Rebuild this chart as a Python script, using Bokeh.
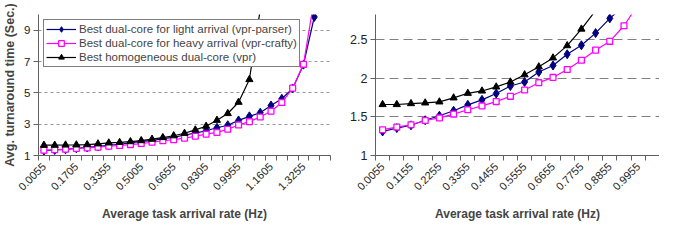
import math
import numpy as np
from bokeh.plotting import figure
from bokeh.layouts import row
from bokeh.models import FixedTicker, Legend, LegendItem, Range1d, ColumnDataSource
from bokeh.embed import file_html
from bokeh.resources import INLINE

# ---- data -------------------------------------------------------------
arrival_rate = ["0.0055", "0.0605", "0.1155", "0.1705", "0.2255", "0.2805", "0.3355",
                "0.3905", "0.4455", "0.5005", "0.5555", "0.6105", "0.6655", "0.7205",
                "0.7755", "0.8305", "0.8855", "0.9405", "0.9955", "1.0505", "1.1055",
                "1.1605", "1.2155", "1.2705", "1.3255", "1.3805", "1.4355"]

light_vpr_parser = [1.31, 1.354, 1.39, 1.455, 1.513, 1.577, 1.654, 1.718, 1.80, 1.897,
                    1.949, 2.077, 2.162, 2.307, 2.423, 2.58, 2.77, 2.93, 3.24, 3.50,
                    3.73, 4.19, 4.62, 5.28, 6.80, 9.84, float("nan")]
heavy_vpr_crafty = [1.333, 1.367, 1.397, 1.452, 1.485, 1.535, 1.59, 1.64, 1.696, 1.764,
                    1.846, 1.94, 2.008, 2.11, 2.23, 2.36, 2.474, 2.675, 2.95, 3.16,
                    3.46, 3.83, 4.38, 5.30, 6.82, 11.0, float("nan")]
homog_vpr = [1.658, 1.658, 1.67, 1.679, 1.692, 1.744, 1.803, 1.833, 1.885, 1.949,
             2.042, 2.145, 2.26, 2.418, 2.632, 2.87, 3.25, 3.68, 4.40, 5.85,
             10.3, float("nan"), float("nan"), float("nan"), float("nan"), float("nan"), float("nan")]

series_names = ["Best dual-core for light arrival (vpr-parser)",
                "Best dual-core for heavy arrival (vpr-crafty)",
                "Best homogeneous dual-core (vpr)"]

left_y_ticks = [1, 3, 5, 7, 9]
left_y_max = 10
left_label_step = 3

right_count = 20
right_y_ticks = [1, 1.5, 2, 2.5]
right_y_labels = ["1", "1.5", "2", "2.5"]
right_y_max = 2.82
right_label_step = 2

x_title = "Average task arrival rate (Hz)"
y_title = "Avg. turnaround time (Sec.)"

FONT = "Liberation Sans"
AXIS_COLOR = "#606060"


def make_source(n):
    return ColumnDataSource(dict(
        x=np.arange(n, dtype=float),
        light=np.array(light_vpr_parser[:n], dtype=float),
        heavy=np.array(heavy_vpr_crafty[:n], dtype=float),
        homog=np.array(homog_vpr[:n], dtype=float),
    ))


def style_axes(p, n, step, yticks, ylabels, gdash, gcolor, ysize):
    xa = p.xaxis[0]
    major = list(range(0, n, step))
    xa.ticker = FixedTicker(ticks=major, minor_ticks=[i - 0.5 for i in range(n + 1)])
    xa.major_label_overrides = {i: arrival_rate[i] for i in major}
    xa.major_label_orientation = math.pi / 4
    xa.major_tick_out = 0
    xa.major_tick_in = 0
    xa.minor_tick_out = 5
    xa.minor_tick_in = 0
    xa.minor_tick_line_color = AXIS_COLOR
    xa.axis_line_color = AXIS_COLOR
    xa.major_label_text_font = FONT
    xa.major_label_text_font_size = "11px"
    xa.major_label_text_color = "#222222"
    xa.major_label_standoff = 4
    xa.axis_label = x_title
    xa.axis_label_text_font = FONT
    xa.axis_label_text_font_style = "bold"
    xa.axis_label_text_font_size = "12px"
    xa.axis_label_standoff = 10

    ya = p.yaxis[0]
    ya.ticker = FixedTicker(ticks=yticks, minor_ticks=[])
    ya.major_label_overrides = {t: l for t, l in zip(yticks, ylabels)}
    ya.major_tick_out = 5
    ya.major_tick_in = 0
    ya.major_tick_line_color = AXIS_COLOR
    ya.axis_line_color = AXIS_COLOR
    ya.major_label_text_font = FONT
    ya.major_label_text_font_size = ysize
    ya.major_label_text_color = "#222222"
    ya.major_label_standoff = 3

    p.xgrid.visible = False
    p.ygrid.ticker = FixedTicker(ticks=yticks[1:])
    p.ygrid.grid_line_dash = gdash
    p.ygrid.grid_line_color = gcolor
    p.ygrid.grid_line_width = 1
    p.outline_line_color = None


def add_series(p, src, size_scale=1.0):
    r1l = p.line("x", "light", source=src, line_color="#000080", line_width=1.2)
    r1s = p.scatter("x", "light", source=src, marker="diamond", size=10 * size_scale,
                    fill_color="#000080", line_color="#000080")
    r2l = p.line("x", "heavy", source=src, line_color="#FF00FF", line_width=1.2)
    r2s = p.scatter("x", "heavy", source=src, marker="square", size=6.5 * size_scale,
                    fill_color="white", line_color="#FF00FF", line_width=1.3)
    r3l = p.line("x", "homog", source=src, line_color="#000000", line_width=1.2)
    r3s = p.scatter("x", "homog", source=src, marker="triangle", size=8 * size_scale,
                    fill_color="#000000", line_color="#000000")
    return [[r1l, r1s], [r2l, r2s], [r3l, r3s]]


# ---- left chart -------------------------------------------------------
n_left = len(arrival_rate)
p1 = figure(width=337, height=224, output_backend="svg", toolbar_location=None,
            x_range=Range1d(-0.5, n_left - 0.5), y_range=Range1d(left_y_ticks[0], left_y_max),
            min_border_left=35, min_border_right=7, min_border_top=14, min_border_bottom=69)
style_axes(p1, n_left, left_label_step, left_y_ticks, [str(t) for t in left_y_ticks],
           "3 3", "#999999", "11.5px")
p1.yaxis[0].axis_label = y_title
p1.yaxis[0].axis_label_text_font = FONT
p1.yaxis[0].axis_label_text_font_style = "bold"
p1.yaxis[0].axis_label_text_font_size = "12.5px"
p1.yaxis[0].axis_label_standoff = 4
rends = add_series(p1, make_source(n_left), 0.9)

legend = Legend(items=[LegendItem(label=nm, renderers=r) for nm, r in zip(series_names, rends)],
                location="top_left", margin=5, padding=2, spacing=0,
                label_height=14, glyph_height=14, glyph_width=30, label_standoff=3,
                border_line_color="black", border_line_width=1,
                background_fill_color="white", background_fill_alpha=1.0,
                label_text_font=FONT, label_text_font_size="11.5px")
p1.add_layout(legend)

# ---- right chart ------------------------------------------------------
p2 = figure(width=322, height=224, output_backend="svg", toolbar_location=None,
            x_range=Range1d(-0.5, right_count - 0.5), y_range=Range1d(right_y_ticks[0], right_y_max),
            min_border_left=38, min_border_right=0, min_border_top=14, min_border_bottom=69)
style_axes(p2, right_count, right_label_step, right_y_ticks, right_y_labels,
           "9 5", "#808080", "12.5px")
add_series(p2, make_source(right_count), 0.9)

layout = row(p1, p2)
open("out.html", "w").write(file_html(layout, INLINE))
